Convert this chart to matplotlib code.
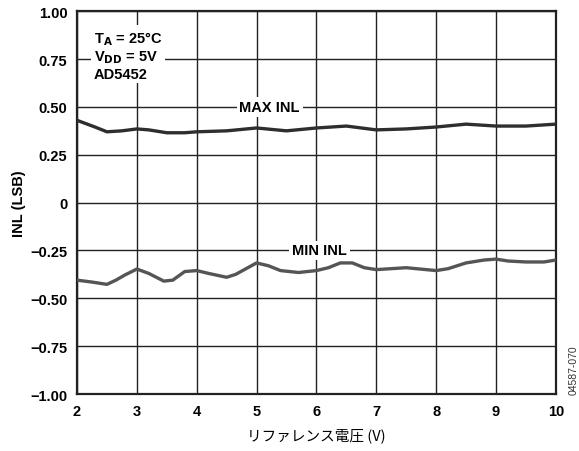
import matplotlib.pyplot as plt

# reference voltage (V) and INL (LSB)
max_v = [2.0, 2.3, 2.5, 2.75, 3.0, 3.2, 3.5, 3.8, 4.0, 4.5, 5.0, 5.5, 6.0, 6.5, 7.0, 7.5, 8.0, 8.5, 9.0, 9.5, 10.0]
max_inl = [0.43, 0.395, 0.37, 0.375, 0.385, 0.38, 0.365, 0.365, 0.37, 0.375, 0.39, 0.375, 0.39, 0.40, 0.38, 0.385, 0.395, 0.41, 0.40, 0.40, 0.41]

min_v = [2.0, 2.25, 2.5, 2.65, 2.8, 3.0, 3.2, 3.45, 3.6, 3.8, 4.0, 4.2, 4.5, 4.65, 5.0, 5.2, 5.4, 5.7, 6.0,
         6.2, 6.4, 6.6, 6.8, 7.0, 7.5, 8.0, 8.2, 8.5, 8.8, 9.0, 9.2, 9.5, 9.8, 10.0]
min_inl = [-0.405, -0.415, -0.427, -0.405, -0.378, -0.347, -0.37, -0.41, -0.405, -0.36, -0.355, -0.37, -0.39, -0.375,
           -0.315, -0.33, -0.355, -0.365, -0.355, -0.34, -0.315, -0.315, -0.34, -0.35, -0.34, -0.355, -0.345,
           -0.315, -0.30, -0.295, -0.305, -0.31, -0.31, -0.30]

x_ticks = [2, 3, 4, 5, 6, 7, 8, 9, 10]
y_ticks = [-1.0, -0.75, -0.5, -0.25, 0, 0.25, 0.5, 0.75, 1.0]
y_labels = ['\u22121.00', '\u22120.75', '\u22120.50', '\u22120.25', '0', '0.25', '0.50', '0.75', '1.00']

plt.rcParams['font.family'] = ['Liberation Sans', 'DejaVu Sans']

fig = plt.figure(figsize=(5.79, 4.52), dpi=100)
ax = fig.add_axes([0.133, 0.126, 0.827, 0.847])

ax.plot(max_v, max_inl, color='#2e2e2e', linewidth=2.4, solid_capstyle='butt', zorder=3)
ax.plot(min_v, min_inl, color='#555555', linewidth=2.4, solid_capstyle='butt', zorder=3)

ax.set_xlim(2, 10)
ax.set_ylim(-1, 1)
ax.set_xticks(x_ticks)
ax.set_yticks(y_ticks)
ax.set_yticklabels(y_labels)
ax.tick_params(length=0, pad=7, labelsize=10.5)
for lab in ax.get_xticklabels() + ax.get_yticklabels():
    lab.set_fontweight('bold')

ax.grid(True, color='#222222', linewidth=1.0, zorder=1)
for sp in ax.spines.values():
    sp.set_linewidth(1.6)
    sp.set_color('#222222')

ax.set_ylabel('INL (LSB)', fontsize=10.5, fontweight='bold', labelpad=3)
ax.set_xlabel('リファレンス電圧 (V)', fontsize=10.5, family=['Noto Sans CJK JP', 'DejaVu Sans'], labelpad=7)

box = dict(facecolor='white', edgecolor='none', pad=2)
ax.text(2.28, 0.905, 'T$_\\mathbf{A}$ = 25°C\nV$_\\mathbf{DD}$ = 5V\nAD5452', fontsize=10.5, fontweight='bold',
        va='top', ha='left', linespacing=1.12, bbox=box, zorder=2)
ax.text(5.22, 0.5, 'MAX INL', fontsize=10.5, fontweight='bold', ha='center', va='center', bbox=box, zorder=2)
ax.text(6.05, -0.25, 'MIN INL', fontsize=10.5, fontweight='bold', ha='center', va='center', bbox=box, zorder=2)

fig.text(0.99, 0.18, '04587-070', fontsize=7.5, rotation=90, ha='center', va='center', color='#333333')

fig.savefig('out.png', dpi=100)
